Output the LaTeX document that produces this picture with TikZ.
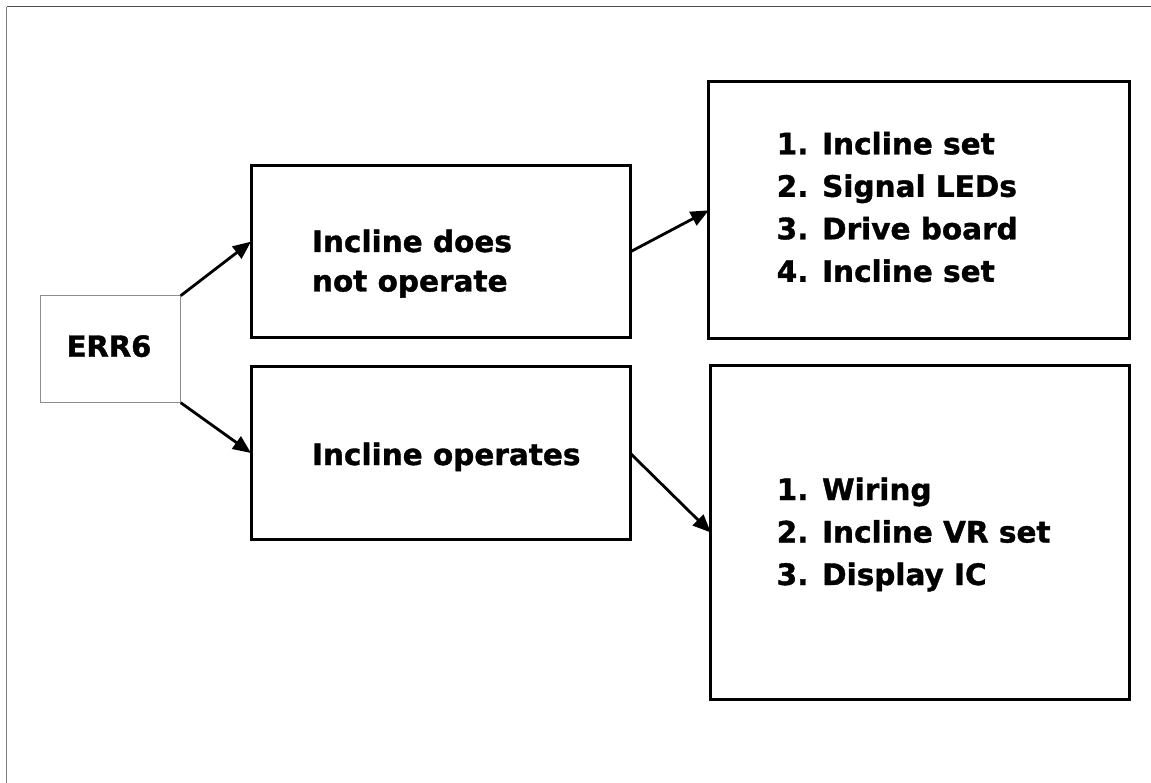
\documentclass[tikz,border=0pt]{standalone}
\usepackage{fontspec}
\setmainfont{DejaVu Sans}[BoldFeatures={FakeBold=1.2}]
\usetikzlibrary{arrows.meta,calc}
\begin{document}
\begin{tikzpicture}[x=1pt,y=-1pt,
  box/.style={draw=black,line width=3pt,inner sep=0pt,outer sep=0pt},
  errbox/.style={draw=black!45,line width=1pt,inner sep=0pt,outer sep=0pt},
  lbl/.style={inner sep=0pt,outer sep=0pt,anchor=base west,font=\bfseries\fontsize{29.5}{39.5}\selectfont},
  lst/.style={inner sep=0pt,outer sep=0pt,anchor=base west,font=\bfseries\fontsize{29.5}{42.5}\selectfont},
  arr/.style={line width=2.8pt,-{Triangle[length=18pt,width=15pt]}}]
\useasboundingbox (0,0) rectangle (1151,783);
\fill[white] (0,0) rectangle (1151,783);
% slide frame
\draw[black!70,line width=1.2pt] (6.5,6.7) -- (1151,6.7);
\draw[black!50,line width=1.5pt] (6.5,6.7) -- (6.5,783);
% boxes
\node[errbox,minimum width=140pt,minimum height=107pt] (err) at (110.7,349.2) {};
\node[box,minimum width=379pt,minimum height=172pt] (A) at (440.5,252) {};
\node[box,minimum width=379pt,minimum height=172pt] (B) at (440.5,453) {};
\node[box,minimum width=421pt,minimum height=256.7pt] (C) at (919.3,210.3) {};
\node[box,minimum width=419pt,minimum height=333pt] (D) at (920.3,532.5) {};
% texts
\node[inner sep=0pt,outer sep=0pt,anchor=base west,font=\bfseries\fontsize{29}{34}\selectfont] (errt) at (66.7,356.7) {ERR6};
\node[lbl] (At) at (312,252) {\begin{tabular}[t]{@{}l@{}}Incline does\\not operate\end{tabular}};
\node[lbl] (Bt) at (312,465) {Incline operates};
\node[lst] (Ct) at (776.7,154.3) {\begin{tabular}[t]{@{}l@{}}1. Incline set\\2. Signal LEDs\\3. Drive board\\4. Incline set\end{tabular}};
\node[lst] (Dt) at (776.7,500) {\begin{tabular}[t]{@{}l@{}}1. Wiring\\2. Incline VR set\\3. Display IC\end{tabular}};
% connectors
\draw[arr] (err.north east) -- ($(A.north west)!0.44!(A.south west)$);
\draw[arr] (err.south east) -- (B.west);
\draw[arr] (A.east) -- (C.west);
\draw[arr] (B.east) -- (D.west);
\end{tikzpicture}
\end{document}
